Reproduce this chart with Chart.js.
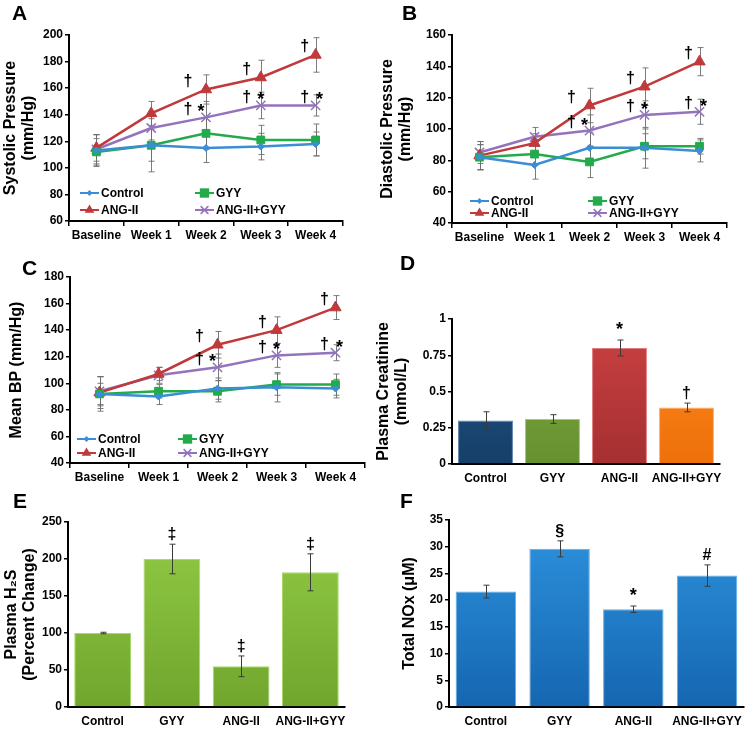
<!DOCTYPE html>
<html>
<head>
<meta charset="utf-8">
<script src="https://cdn.jsdelivr.net/npm/chart.js@4.4.1/dist/chart.umd.min.js"></script>
<style>
  body { margin: 0; background: #fff; }
  #fig { position: relative; width: 749px; height: 731px; overflow: hidden; }
  #fig canvas { position: absolute; }
</style>
</head>
<body>
<div id="fig">
  <canvas id="chartA" width="375" height="245" style="left:0px;top:0px"></canvas>
  <canvas id="chartB" width="374" height="245" style="left:375px;top:0px"></canvas>
  <canvas id="chartC" width="375" height="240" style="left:0px;top:245px"></canvas>
  <canvas id="chartD" width="374" height="240" style="left:375px;top:245px"></canvas>
  <canvas id="chartE" width="375" height="246" style="left:0px;top:485px"></canvas>
  <canvas id="chartF" width="374" height="246" style="left:375px;top:485px"></canvas>
</div>
<script>
// categorias
const weeks = ['Baseline', 'Week 1', 'Week 2', 'Week 3', 'Week 4'];
const groups = ['Control', 'GYY', 'ANG-II', 'ANG-II+GYY'];

// A - systolic pressure (mm/Hg)
const sysControl = [113, 117, 115, 116, 118];
const sysGyy     = [112, 117, 126, 121, 121];
const sysAng     = [115, 141, 159, 168, 185];
const sysAngGyy  = [114, 130, 138, 147, 147];
const sysControlErr = [12, 12, 11, 10, 9];
const sysGyyErr     = [10, 20, 12, 11, 12];
const sysAngErr     = [10, 9, 11, 13, 13];
const sysAngGyyErr  = [11, 9, 12, 10, 8];

// B - diastolic pressure (mm/Hg)
const diaControl = [82, 77, 88, 88, 86];
const diaGyy     = [82, 84, 79, 89, 89];
const diaAng     = [83, 91, 115, 127, 143];
const diaAngGyy  = [85, 95, 99, 109, 111];
const diaControlErr = [8, 9, 10, 13, 7];
const diaGyyErr     = [8, 7, 10, 8, 5];
const diaAngErr     = [9, 6, 11, 12, 9];
const diaAngGyyErr  = [7, 6, 10, 9, 8];

// C - mean BP (mm/Hg)
const mapControl = [92, 90, 96, 97, 96];
const mapGyy     = [92, 94, 94, 99, 99];
const mapAng     = [93, 107, 129, 140, 157];
const mapAngGyy  = [94, 106, 112, 121, 123];
const mapControlErr = [13, 6, 8, 11, 7];
const mapGyyErr     = [8, 5, 8, 8, 8];
const mapAngErr     = [12, 5, 10, 10, 9];
const mapAngGyyErr  = [11, 6, 10, 9, 6];

// significance marks for the line panels
const angMarks   = ['', '', '†', '†', '†'];
const comboMarks = ['', '', '†*', '†*', '†*'];

// D - plasma creatinine (mmol/L)
const creatinine    = [0.30, 0.31, 0.80, 0.39];
const creatinineErr = [0.06, 0.03, 0.055, 0.03];
const creatinineMarks = ['', '', '*', '†'];

// E - plasma H2S (percent change)
const h2s      = [100, 200, 55, 182];
const h2sErr   = [1, 20, 14, 25];
const h2sMarks = ['', '‡', '‡', '‡'];

// F - total NOx (uM)
const nox      = [21.6, 29.6, 18.3, 24.6];
const noxErr   = [1.2, 1.5, 0.6, 2.0];
const noxMarks = ['', '§', '*', '#'];

// y axis ticks
const sysTicks = [60, 200, 20];
const diaTicks = [40, 160, 20];
const mapTicks = [40, 180, 20];
const creTicks = [0, 1, 0.25];
const h2sTicks = [0, 250, 50];
const noxTicks = [0, 35, 5];

const FONT = '"Liberation Sans", Arial, Helvetica, sans-serif';
Chart.defaults.font.family = FONT;
Chart.defaults.font.weight = 'bold';
Chart.defaults.font.size = 12;
Chart.defaults.color = '#000';
Chart.defaults.animation = false;
Chart.defaults.plugins.legend.display = false;
Chart.defaults.plugins.tooltip.enabled = false;

const lineColors = ['#3B8ED6', '#22AA4B', '#C0393B', '#9374BC'];
const pointStyles = ['rectRot', 'rect', 'triangle', 'crossRot'];
const pointSizes = [3.5, 5.5, 6.5, 6.5];

function drawMarker(ctx, style, x, y, r, color) {
    ctx.save();
    ctx.fillStyle = color;
    ctx.strokeStyle = color;
    ctx.lineWidth = 1.5;
    ctx.beginPath();
    if (style === 'rect') {
        ctx.rect(x - r, y - r, 2 * r, 2 * r);
        ctx.fill();
    } else if (style === 'rectRot') {
        ctx.moveTo(x, y - r); ctx.lineTo(x + r, y); ctx.lineTo(x, y + r); ctx.lineTo(x - r, y);
        ctx.closePath(); ctx.fill();
    } else if (style === 'triangle') {
        ctx.moveTo(x, y - r); ctx.lineTo(x + r * 0.87, y + r * 0.5); ctx.lineTo(x - r * 0.87, y + r * 0.5);
        ctx.closePath(); ctx.fill();
    } else {
        const d = r * 0.7;
        ctx.moveTo(x - d, y - d); ctx.lineTo(x + d, y + d);
        ctx.moveTo(x + d, y - d); ctx.lineTo(x - d, y + d);
        ctx.stroke();
    }
    ctx.restore();
}

// error bars, drawn from dataset.errors through the y scale
const errorBars = {
    id: 'errorBars',
    beforeDatasetsDraw(chart, args, opts) { if (opts.behind) this.paint(chart, opts); },
    afterDatasetsDraw(chart, args, opts) { if (!opts.behind) this.paint(chart, opts); },
    paint(chart, opts) {
        const ctx = chart.ctx;
        const y = chart.scales.y;
        ctx.save();
        ctx.strokeStyle = opts.color;
        ctx.lineWidth = 1;
        chart.data.datasets.forEach((ds, di) => {
            if (!ds.errors) return;
            chart.getDatasetMeta(di).data.forEach((el, i) => {
                const v = ds.data[i], e = ds.errors[i];
                const x = Math.round(el.x) + 0.5;
                const top = y.getPixelForValue(v + e);
                const bot = y.getPixelForValue(v - e);
                ctx.beginPath();
                ctx.moveTo(x, top); ctx.lineTo(x, bot);
                ctx.moveTo(x - opts.cap, top); ctx.lineTo(x + opts.cap, top);
                ctx.moveTo(x - opts.cap, bot); ctx.lineTo(x + opts.cap, bot);
                ctx.stroke();
            });
        });
        ctx.restore();
    }
};

// significance symbols
const sigMarks = {
    id: 'sigMarks',
    afterDatasetsDraw(chart, args, opts) {
        const ctx = chart.ctx;
        const y = chart.scales.y;
        ctx.save();
        ctx.fillStyle = '#000';
        ctx.textAlign = 'center';
        chart.data.datasets.forEach((ds, di) => {
            if (!ds.marks) return;
            chart.getDatasetMeta(di).data.forEach((el, i) => {
                const m = ds.marks[i];
                if (!m) return;
                if (opts.mode === 'bar') {
                    const top = y.getPixelForValue(ds.data[i] + ds.errors[i]);
                    ctx.font = 'bold ' + (m === '*' ? 18 : 16) + 'px ' + FONT;
                    ctx.textBaseline = 'alphabetic';
                    ctx.fillText(m, el.x, top - 5);
                } else {
                    ctx.textBaseline = 'middle';
                    ctx.font = 'bold 16px ' + FONT;
                    if (m.includes('†')) ctx.fillText('†', el.x + opts.daggerDx[i], el.y + opts.dy);
                    ctx.font = 'bold 18px ' + FONT;
                    if (m.includes('*')) ctx.fillText('*', el.x + opts.starDx[i], el.y + opts.dy + 3);
                }
            });
        });
        ctx.restore();
    }
};

// two-column legend inside the plot area
const boxLegend = {
    id: 'boxLegend',
    afterDraw(chart, args, opts) {
        if (!opts.show) return;
        const ctx = chart.ctx;
        const area = chart.chartArea;
        const cols = [opts.x1, opts.x2, opts.x1, opts.x2];
        const rows = [opts.y1, opts.y1, opts.y2, opts.y2];
        ctx.save();
        ctx.font = 'bold 12px ' + FONT;
        ctx.textBaseline = 'middle';
        ctx.textAlign = 'left';
        chart.data.datasets.forEach((ds, k) => {
            const x = area.left + cols[k];
            const yy = area.bottom + rows[k];
            ctx.strokeStyle = ds.borderColor;
            ctx.lineWidth = 2;
            ctx.beginPath();
            ctx.moveTo(x, yy); ctx.lineTo(x + 19, yy);
            ctx.stroke();
            drawMarker(ctx, ds.pointStyle, x + 9.5, yy, ds.pointRadius * 0.85, ds.borderColor);
            ctx.fillStyle = '#000';
            ctx.fillText(ds.label, x + 21, yy + 0.5);
        });
        ctx.restore();
    }
};

const panelLetter = {
    id: 'panelLetter',
    afterDraw(chart, args, opts) {
        const ctx = chart.ctx;
        ctx.save();
        ctx.font = 'bold 21px ' + FONT;
        ctx.fillStyle = '#000';
        ctx.textBaseline = 'alphabetic';
        ctx.textAlign = 'left';
        ctx.fillText(opts.text, opts.x, opts.y);
        ctx.restore();
    }
};

function yAxis(ticks, title, box) {
    return {
        min: ticks[0],
        max: ticks[1],
        ticks: { stepSize: ticks[2], padding: 2, font: { size: 12, weight: 'bold' }, color: '#000',
                 callback: v => String(v) },
        grid: { drawOnChartArea: false, drawTicks: true, tickLength: 4, color: '#000', lineWidth: 1.5 },
        border: { display: true, color: '#000', width: 2 },
        title: { display: true, text: title, color: '#000',
                 font: { size: 16, weight: 'bold', lineHeight: 1.1 },
                 padding: { top: box.titlePad, bottom: 0 } },
        afterFit: s => { s.width = box.yw; }
    };
}

function xAxis(box, withTicks) {
    return {
        offset: true,
        ticks: { padding: withTicks ? 2 : 7, maxRotation: 0, minRotation: 0, autoSkip: false,
                 font: { size: 12, weight: 'bold' }, color: '#000' },
        grid: { offset: true, drawOnChartArea: false, drawTicks: withTicks, tickLength: 5, color: '#000', lineWidth: 1.5 },
        border: { display: true, color: '#000', width: 2 },
        afterFit: s => { s.height = box.xh; }
    };
}

function lineChart(id, values, errors, ticks, title, box, legend, letter) {
    const marks = [null, null, angMarks, comboMarks];
    const datasets = values.map((vals, k) => ({
        label: groups[k],
        data: vals,
        errors: errors[k],
        marks: marks[k],
        borderColor: lineColors[k],
        backgroundColor: lineColors[k],
        borderWidth: 2.5,
        pointStyle: pointStyles[k],
        pointRadius: pointSizes[k],
        pointBorderWidth: k === 3 ? 1.5 : 1,
        tension: 0
    }));
    return new Chart(document.getElementById(id), {
        type: 'line',
        data: { labels: weeks, datasets: datasets },
        options: {
            responsive: false,
            layout: { padding: { left: 0, top: box.top, right: box.right, bottom: 0 } },
            scales: { x: xAxis(box, true), y: yAxis(ticks, title, box) },
            plugins: {
                errorBars: { behind: true, color: 'rgba(110,110,110,0.9)', cap: 3 },
                sigMarks: { mode: 'line', daggerDx: [0, 0, -18, -14, -11], starDx: [0, 0, -5, 0, 4], dy: -8 },
                boxLegend: Object.assign({ show: true }, legend),
                panelLetter: letter
            }
        },
        plugins: [errorBars, sigMarks, boxLegend, panelLetter]
    });
}

function barFill(stops) {
    return (ctx) => {
        const area = ctx.chart.chartArea;
        const c = Array.isArray(stops[0]) ? stops[ctx.dataIndex] : stops;
        if (!area) return c[0];
        const g = ctx.chart.ctx.createLinearGradient(0, area.top, 0, area.bottom);
        g.addColorStop(0, c[0]);
        g.addColorStop(1, c[1]);
        return g;
    };
}

function barChart(id, values, errors, marks, ticks, title, box, fill, edge, letter) {
    return new Chart(document.getElementById(id), {
        type: 'bar',
        data: {
            labels: groups,
            datasets: [{
                data: values,
                errors: errors,
                marks: marks,
                backgroundColor: barFill(fill),
                borderColor: edge,
                borderWidth: 1,
                categoryPercentage: 1,
                barPercentage: 0.82
            }]
        },
        options: {
            responsive: false,
            layout: { padding: { left: 0, top: box.top, right: box.right, bottom: 0 } },
            scales: { x: xAxis(box, false), y: yAxis(ticks, title, box) },
            plugins: {
                errorBars: { behind: false, color: '#3a3a3a', cap: 3 },
                sigMarks: { mode: 'bar' },
                boxLegend: { show: false },
                panelLetter: letter
            }
        },
        plugins: [errorBars, sigMarks, boxLegend, panelLetter]
    });
}

lineChart('chartA',
    [sysControl, sysGyy, sysAng, sysAngGyy],
    [sysControlErr, sysGyyErr, sysAngErr, sysAngGyyErr],
    sysTicks, ['Systolic Pressure', '(mm/Hg)'],
    { top: 35, right: 32, yw: 69, xh: 24, titlePad: 2 },
    { x1: 11, x2: 126, y1: -28, y2: -11 },
    { text: 'A', x: 12, y: 20 });

lineChart('chartB',
    [diaControl, diaGyy, diaAng, diaAngGyy],
    [diaControlErr, diaGyyErr, diaAngErr, diaAngGyyErr],
    diaTicks, ['Diastolic Pressure', '(mm/Hg)'],
    { top: 35, right: 22, yw: 77, xh: 22, titlePad: 4 },
    { x1: 18, x2: 136, y1: -22, y2: -10 },
    { text: 'B', x: 27, y: 20 });

lineChart('chartC',
    [mapControl, mapGyy, mapAng, mapAngGyy],
    [mapControlErr, mapGyyErr, mapAngErr, mapAngGyyErr],
    mapTicks, 'Mean BP (mm/Hg)',
    { top: 32, right: 10, yw: 70, xh: 22, titlePad: 8 },
    { x1: 7, x2: 108, y1: -24, y2: -10 },
    { text: 'C', x: 22, y: 30 });

barChart('chartD', creatinine, creatinineErr, creatinineMarks, creTicks,
    ['Plasma Creatinine', '(mmol/L)'],
    { top: 74, right: 29, yw: 77, xh: 21, titlePad: 0 },
    [['#21578A', '#163F69'], ['#80AD43', '#67902F'], ['#CC4243', '#A52F31'], ['#FF8A1E', '#EE700A']],
    ['#5F86AD', '#A6C87A', '#E07D7E', '#FFB068'],
    { text: 'D', x: 25, y: 25 });

barChart('chartE', h2s, h2sErr, h2sMarks, h2sTicks,
    ['Plasma H₂S', '(Percent Change)'],
    { top: 37, right: 30, yw: 68, xh: 24, titlePad: 3 },
    ['#93CC46', '#70A62D'],
    '#A8D86A',
    { text: 'E', x: 13, y: 23 });

barChart('chartF', nox, noxErr, noxMarks, noxTicks,
    'Total NOx (μM)',
    { top: 35, right: 1, yw: 74, xh: 24, titlePad: 26 },
    ['#2E93DE', '#1566B1'],
    '#5CB0EA',
    { text: 'F', x: 25, y: 23 });
</script>
</body>
</html>
